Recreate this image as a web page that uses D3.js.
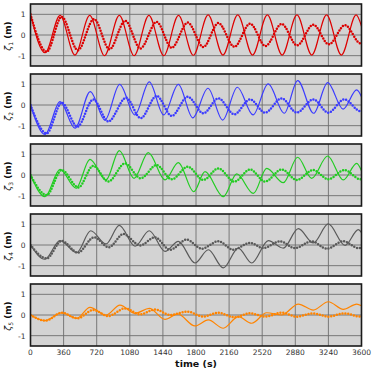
<!DOCTYPE html>
<html><head><meta charset="utf-8">
<script src="https://cdn.jsdelivr.net/npm/d3@7"></script>
<style>body{margin:0;background:#fff}svg{display:block}</style>
</head><body><svg id="c" width="374" height="374"></svg>
<script>
// ---- data (extrema: times in s, values in m) ----
const xTicks = [0,360,720,1080,1440,1800,2160,2520,2880,3240,3600];
const yTicks = [-1,0,1];
const panelSubs = ["1","2","3","4","5"];
const panelColors = ["#dd0000","#3b3bff","#22cc22","#5a5a5a","#ff8400"];

const redLineT = [0,158,322,483,644,805,966,1127,1288,1449,1610,1771,1932,2093,2254,2415,2576,2737,2898,3059,3220,3381,3542,3600];
const redLineV = [1.0,-0.86,0.95,-0.97,0.95,-1.0,0.95,-1.0,0.95,-1.0,0.95,-0.98,0.97,-0.97,0.97,-0.97,0.97,-0.97,0.97,-0.97,0.97,-0.97,0.97,0.42];
const redDotT = [0,176,339,515,690,860,1030,1195,1372,1536,1710,1880,2043,2217,2388,2555,2732,2900,3076,3245,3421,3590,3600];
const redDotV = [1.0,-0.81,0.88,-0.74,0.77,-0.69,0.69,-0.65,0.63,-0.62,0.6,-0.58,0.58,-0.57,0.55,-0.53,0.53,-0.5,0.5,-0.45,0.48,-0.4,-0.4];

const blueLineT = [0,158,321,484,650,810,970,1135,1292,1448,1608,1765,1930,2090,2250,2420,2585,2760,2906,3080,3232,3400,3548,3600];
const blueLineV = [0,-1.42,0.16,-1.12,0.65,-0.73,1.0,-0.48,1.12,-0.48,1.0,-0.62,0.81,-0.73,0.86,-0.48,1.02,-0.4,1.18,-0.4,1.08,-0.2,0.73,0.4];
const blueDotT = [0,176,340,510,683,846,1040,1198,1372,1536,1710,1880,2043,2217,2388,2551,2732,2896,3076,3239,3413,3590,3600];
const blueDotV = [0,-1.37,0.11,-1.05,0.27,-0.8,0.35,-0.64,0.44,-0.53,0.4,-0.4,0.32,-0.45,0.27,-0.37,0.32,-0.37,0.27,-0.37,0.27,-0.3,-0.3];

const greenLineT = [0,158,321,495,647,821,966,1126,1281,1463,1608,1775,1898,2097,2243,2424,2569,2750,2906,3058,3232,3402,3548,3600];
const greenLineV = [0,-1.05,0.27,-0.64,0.76,-0.24,1.18,-0.16,1.08,-0.24,0.6,-0.81,0.16,-1.05,0.05,-0.89,0.32,-0.37,0.86,-0.16,0.92,-0.24,0.56,0.2];
const greenDotT = [0,176,339,520,683,846,1028,1198,1372,1536,1710,1880,2043,2217,2388,2551,2732,2896,3076,3239,3413,3590,3600];
const greenDotV = [0,-0.97,0.24,-0.6,0.44,-0.32,0.56,-0.16,0.48,-0.21,0.4,-0.24,0.32,-0.32,0.27,-0.32,0.27,-0.24,0.24,-0.21,0.24,-0.21,-0.21];

const grayLineT = [0,155,321,502,655,821,966,1137,1292,1463,1608,1789,1934,2097,2260,2406,2587,2750,2913,3076,3239,3421,3566,3600];
const grayLineV = [0,-0.69,0.21,-0.37,0.69,0.05,0.95,-0.06,0.69,-0.31,0.18,-0.87,-0.23,-1.11,-0.15,-0.87,0.21,-0.15,0.79,0.1,1.02,-0.02,0.74,0.6];
const grayDotT = [0,176,339,515,691,852,1010,1192,1354,1518,1699,1862,2043,2206,2388,2532,2714,2877,3058,3221,3402,3566,3600];
const grayDotV = [0,-0.65,0.2,-0.37,0.37,-0.11,0.53,-0.02,0.37,-0.23,0.26,-0.18,0.18,-0.23,0.1,-0.15,0.18,-0.15,0.18,-0.18,0.18,-0.15,-0.12];

const orangeLineT = [0,158,339,502,647,821,973,1137,1292,1463,1600,1789,1934,2097,2260,2406,2569,2732,2913,3076,3239,3402,3548,3600];
const orangeLineV = [0,-0.27,0.11,-0.16,0.37,0.0,0.48,0.08,0.32,-0.21,0.05,-0.53,-0.24,-0.64,-0.08,-0.4,0.11,0.0,0.53,0.24,0.64,0.27,0.53,0.45];
const orangeDotT = [0,165,339,510,683,846,1028,1191,1354,1517,1710,1880,2043,2217,2388,2551,2732,2896,3076,3239,3413,3590,3600];
const orangeDotV = [0,-0.27,0.11,-0.16,0.24,-0.05,0.32,0.03,0.27,0.0,0.16,-0.08,0.11,-0.11,0.08,-0.08,0.11,-0.08,0.08,-0.08,0.08,-0.08,-0.08];

// ---- build ----
const zip = (T,V) => T.map((t,i)=>({t:t, v:V[i]}));
const panels = [
  {line: zip(redLineT,redLineV), dots: zip(redDotT,redDotV)},
  {line: zip(blueLineT,blueLineV), dots: zip(blueDotT,blueDotV)},
  {line: zip(greenLineT,greenLineV), dots: zip(greenDotT,greenDotV)},
  {line: zip(grayLineT,grayLineV), dots: zip(grayDotT,grayDotV)},
  {line: zip(orangeLineT,orangeLineV), dots: zip(orangeDotT,orangeDotV)}
];

const svg = d3.select("#c");
const L = 30.5, R = 361.5, H = 62, step = 70, top0 = 4;
const x = d3.scaleLinear().domain([0,3600]).range([L,R]);
const font = "DejaVu Sans, Verdana, sans-serif";

panels.forEach((p,i)=>{
  const top = top0 + i*step;
  const y = d3.scaleLinear().domain([-1.5,1.5]).range([top+H, top]);
  const g = svg.append("g");
  g.append("rect").attr("x",L).attr("y",top).attr("width",R-L).attr("height",H).attr("fill","#d3d3d3");
  g.append("clipPath").attr("id","cp"+i).append("rect").attr("x",L).attr("y",top).attr("width",R-L).attr("height",H);
  // grid
  g.selectAll(".vg").data(xTicks).enter().append("line")
    .attr("x1",d=>x(d)).attr("x2",d=>x(d)).attr("y1",top).attr("y2",top+H)
    .attr("stroke","#6e6e6e").attr("stroke-width",0.9);
  g.selectAll(".hg").data(yTicks).enter().append("line")
    .attr("x1",L).attr("x2",R).attr("y1",d=>y(d)).attr("y2",d=>y(d))
    .attr("stroke","#6e6e6e").attr("stroke-width",0.9);
  // y tick labels
  g.selectAll(".yl").data(yTicks).enter().append("text")
    .attr("x",L-5).attr("y",d=>y(d)+3).attr("text-anchor","end")
    .attr("font-family",font).attr("font-size",7.5).attr("fill","#333")
    .text(d=>d);
  // series
  const lineGen = d3.line().x(d=>x(d.t)).y(d=>y(d.v)).curve(d3.curveMonotoneX);
  const c = panelColors[i];
  const inner = g.append("g").attr("clip-path","url(#cp"+i+")");
  inner.append("path").attr("d",lineGen(p.line)).attr("fill","none")
    .attr("stroke",c).attr("stroke-width",1.2);
  inner.append("path").attr("d",lineGen(p.dots)).attr("fill","none")
    .attr("stroke",c).attr("stroke-width",2.5).attr("stroke-linecap","round")
    .attr("stroke-dasharray","0,2.9");
  // frame
  g.append("rect").attr("x",L).attr("y",top).attr("width",R-L).attr("height",H)
    .attr("fill","none").attr("stroke","#1a1a1a").attr("stroke-width",1.6);
  // y label
  const lab = g.append("text")
    .attr("transform","translate(11,"+(y(0)+1)+") rotate(-90)")
    .attr("text-anchor","middle").attr("font-family",font).attr("font-size",9)
    .attr("fill","#111");
  lab.append("tspan").attr("font-style","italic").text("ζ");
  lab.append("tspan").attr("font-size",6).attr("dy",2).text(panelSubs[i]);
  lab.append("tspan").attr("dy",-2).attr("font-weight","bold").text(" (m)");
});

// x tick labels
const lastBottom = top0 + 4*step + H;
svg.selectAll(".xl").data(xTicks).enter().append("text")
  .attr("x",d=>x(d)).attr("y",lastBottom+9).attr("text-anchor","middle")
  .attr("font-family",font).attr("font-size",7.5).attr("fill","#333")
  .text(d=>d);
svg.append("text").attr("x",(L+R)/2).attr("y",lastBottom+21).attr("text-anchor","middle")
  .attr("font-family",font).attr("font-size",9.5).attr("font-weight","bold").attr("fill","#111")
  .text("time (s)");
</script>
</body></html>
